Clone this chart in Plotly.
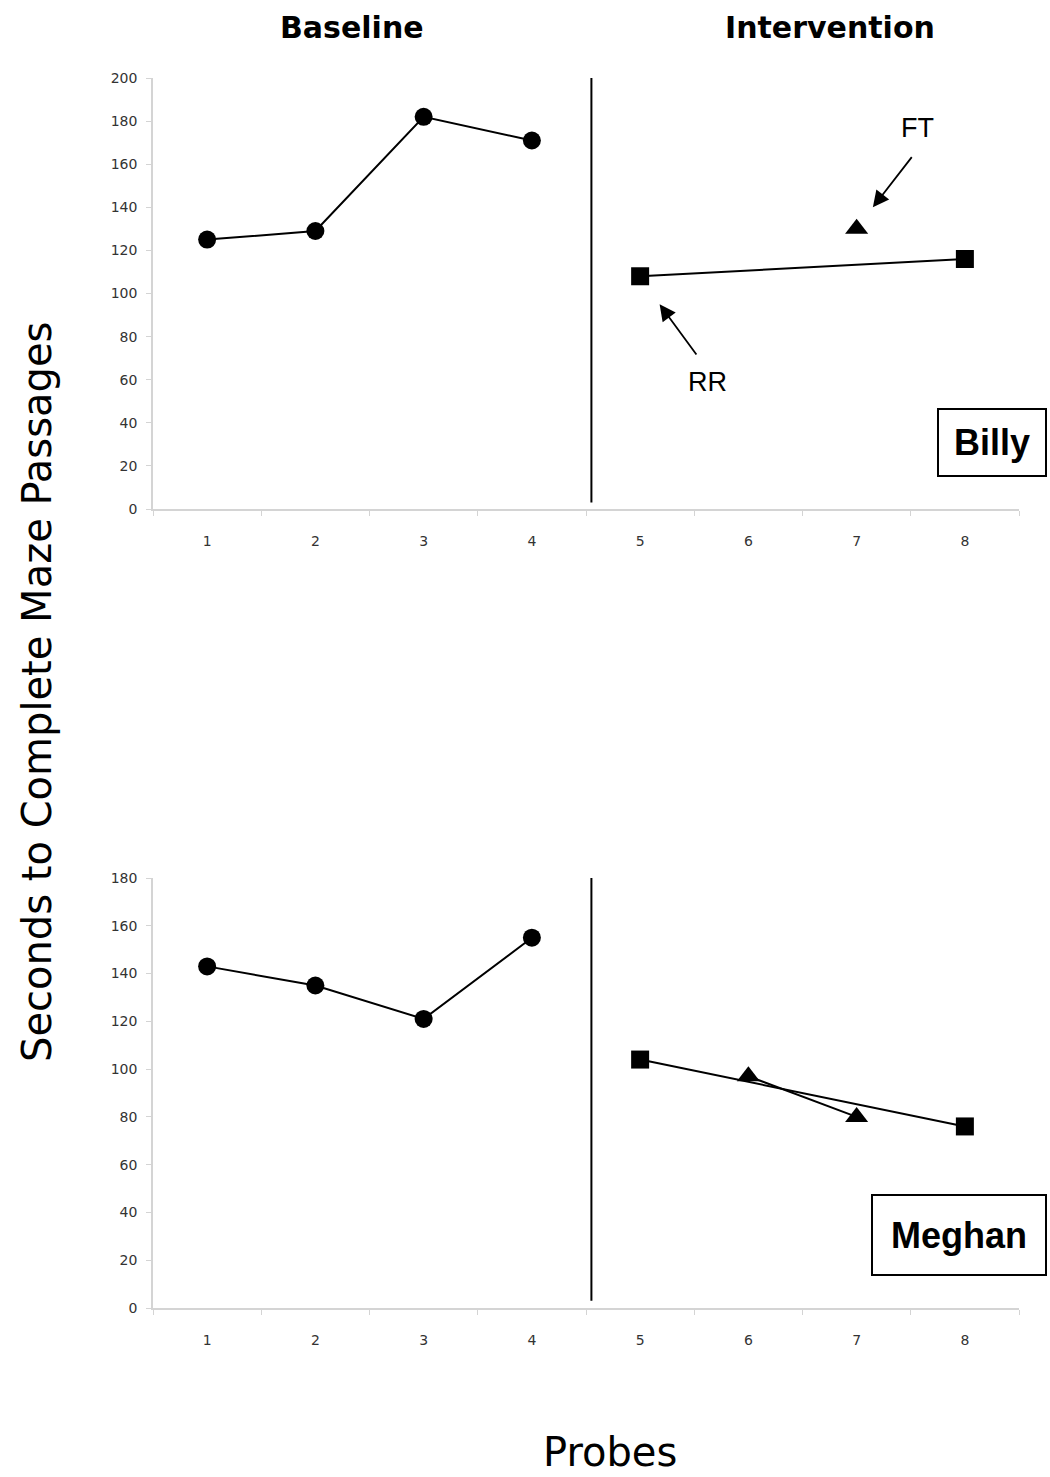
import plotly.graph_objects as go

# ---- data ----
probes = [1, 2, 3, 4, 5, 6, 7, 8]
billy_base_x = [1, 2, 3, 4]
billy_base_y = [125, 129, 182, 171]
billy_rr_x = [5, 8]
billy_rr_y = [108, 116]
billy_ft_x = [7]
billy_ft_y = [130]

meghan_base_x = [1, 2, 3, 4]
meghan_base_y = [143, 135, 121, 155]
meghan_rr_x = [5, 8]
meghan_rr_y = [104, 76]
meghan_ft_x = [6, 7]
meghan_ft_y = [97, 80]

top_yticks = [0, 20, 40, 60, 80, 100, 120, 140, 160, 180, 200]
bot_yticks = [0, 20, 40, 60, 80, 100, 120, 140, 160, 180]

W, H = 1050, 1477
fig = go.Figure()

line = dict(color="black", width=2)

def add(x, y, symbol, size, xa, ya, mode="lines+markers"):
    fig.add_trace(go.Scatter(x=x, y=y, mode=mode, line=line,
                             marker=dict(symbol=symbol, size=size, color="black"),
                             xaxis=xa, yaxis=ya, showlegend=False, hoverinfo="x+y"))

add(billy_base_x, billy_base_y, "circle", 18, "x", "y")
add(billy_rr_x, billy_rr_y, "square", 18, "x", "y")
add(billy_ft_x, billy_ft_y, "triangle-up", 20, "x", "y", mode="markers")
add(meghan_base_x, meghan_base_y, "circle", 18, "x2", "y2")
add(meghan_rr_x, meghan_rr_y, "square", 18, "x2", "y2")
add(meghan_ft_x, meghan_ft_y, "triangle-up", 20, "x2", "y2")

xl, xr = 153 / W, 1019 / W
axcol = "#d4d4d4"
tickfont = dict(family="DejaVu Sans, Verdana, sans-serif", size=14, color="#333333")

xcommon = dict(range=[0.5, 8.5], tickvals=probes, ticktext=[str(p) for p in probes],
               showgrid=False, zeroline=False, showline=True, linecolor=axcol, linewidth=1.5,
               ticks="", tickfont=tickfont, ticklabelstandoff=18,
               minor=dict(tickvals=[0.5 + i for i in range(9)], ticks="outside",
                          ticklen=5, tickcolor=axcol, showgrid=False),
               domain=[xl, xr], fixedrange=True)
ycommon = dict(showgrid=False, zeroline=False, showline=True, linecolor=axcol, linewidth=1.5,
               ticks="outside", ticklen=5, tickcolor=axcol, tickfont=tickfont,
               ticklabelstandoff=6, fixedrange=True)

fig.update_layout(
    width=W, height=H, margin=dict(l=0, r=0, t=0, b=0, autoexpand=False),
    paper_bgcolor="white", plot_bgcolor="white",
    xaxis=dict(**xcommon, anchor="y"),
    yaxis=dict(**ycommon, range=[0, 200], tickvals=top_yticks,
               domain=[1 - 509 / H, 1 - 78 / H], anchor="x"),
    xaxis2=dict(**xcommon, anchor="y2"),
    yaxis2=dict(**ycommon, range=[0, 180], tickvals=bot_yticks,
                domain=[1 - 1308 / H, 1 - 878 / H], anchor="x2"),
)

# phase change lines
fig.add_shape(type="line", xref="x", yref="y", x0=4.55, x1=4.55, y0=3, y1=200,
              line=dict(color="black", width=2))
fig.add_shape(type="line", xref="x2", yref="y2", x0=4.55, x1=4.55, y0=3, y1=180,
              line=dict(color="black", width=2))

ann = []

def paper_text(text, px, py, font, **kw):
    d = dict(text=text, x=px / W, y=1 - py / H, xref="paper", yref="paper",
             xanchor="center", yanchor="middle", showarrow=False, font=font)
    d.update(kw)
    ann.append(d)

hfont = dict(family="DejaVu Sans, Verdana, sans-serif", size=30, color="black")
paper_text("<b>Baseline</b>", 352, 28, hfont)
paper_text("<b>Intervention</b>", 830, 28, hfont)
paper_text("Seconds to Complete Maze Passages", 37, 692,
           dict(family="DejaVu Sans, Verdana, sans-serif", size=40, color="black"),
           textangle=-90)
paper_text("Probes", 610, 1452,
           dict(family="DejaVu Sans, Verdana, sans-serif", size=40, color="black"))

# arrows
afont = dict(family="Arial, Liberation Sans, sans-serif", size=27, color="black")
ann.append(dict(x=7.15, y=140, ax=7.52, ay=164, xref="x", yref="y", axref="x", ayref="y",
                text="", showarrow=True, arrowhead=2, arrowsize=1.8, arrowwidth=1.8,
                arrowcolor="black"))
ann.append(dict(x=7.56, y=177, xref="x", yref="y", text="FT", showarrow=False, font=afont,
                xanchor="center", yanchor="middle"))
ann.append(dict(x=5.18, y=95, ax=5.53, ay=71, xref="x", yref="y", axref="x", ayref="y",
                text="", showarrow=True, arrowhead=2, arrowsize=1.8, arrowwidth=1.8,
                arrowcolor="black"))
ann.append(dict(x=5.62, y=59, xref="x", yref="y", text="RR", showarrow=False, font=afont,
                xanchor="center", yanchor="middle"))

# name boxes
nfont = dict(family="Arial, Liberation Sans, sans-serif", size=36, color="black")
paper_text("<b>Billy</b>", 992, 442.5, nfont, bordercolor="black", borderwidth=2,
           bgcolor="white", width=104, height=63, align="center", valign="middle")
paper_text("<b>Meghan</b>", 959, 1235, nfont, bordercolor="black", borderwidth=2,
           bgcolor="white", width=170, height=76, align="center", valign="middle")

fig.update_layout(annotations=ann)
fig.write_html("out.html")
